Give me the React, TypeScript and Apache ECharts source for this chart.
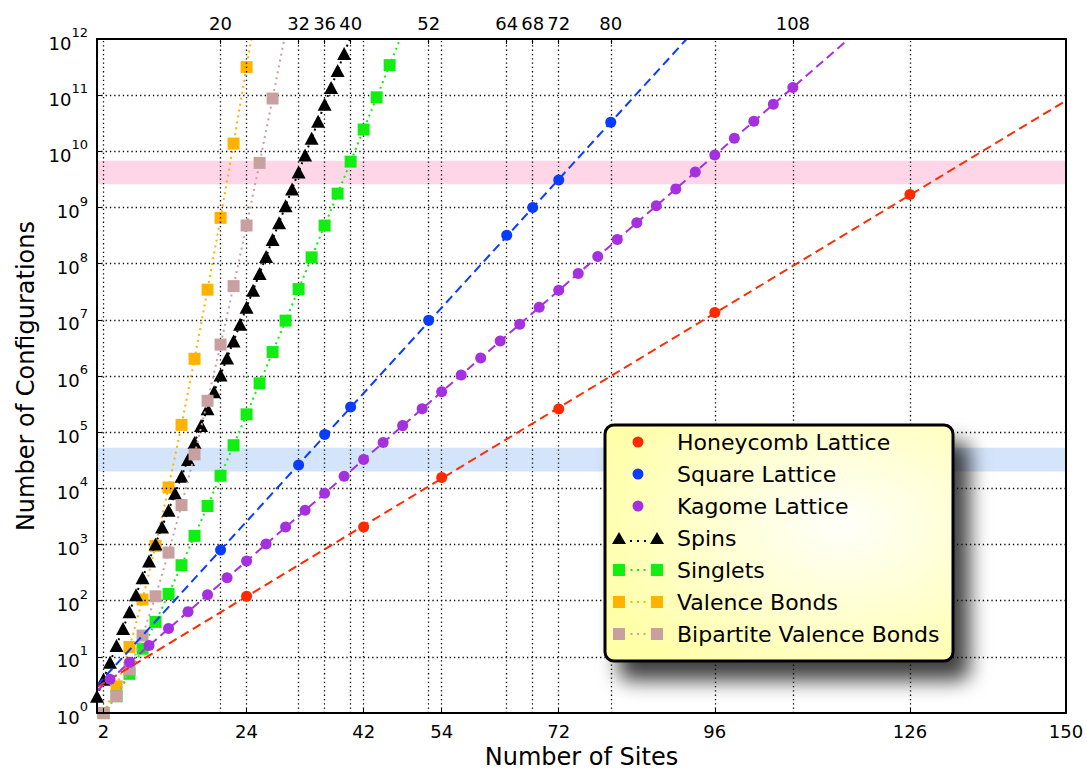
import React, { useEffect, useRef } from "react";
import * as echarts from "echarts";

// ---------- data ----------
const honeycombSites = [24, 42, 54, 72, 96, 126];
const honeycombCount = [120, 2050, 15600, 260000, 13500000, 1700000000];

const squareSites = [20, 32, 36, 40, 52, 64, 68, 72, 80];
const squareCount = [800, 26000, 91000, 280000, 9800000, 320000000, 1000000000, 3100000000, 33000000000];

const kagomeSites = [3, 6, 9, 12, 15, 18, 21, 24, 27, 30, 33, 36, 39, 42, 45, 48, 51, 54, 57, 60, 63, 66, 69, 72, 75, 78, 81, 84, 87, 90, 93, 96, 99, 102, 105, 108];
const kagomeCount = [4, 8, 16, 32, 64, 128, 256, 512, 1024, 2048, 4096, 8192, 16384, 32768, 65536, 131072, 262144, 524288, 1048576, 2097152, 4194304, 8388608, 16777216, 33554432, 67108864, 134217728, 268435456, 536870912, 1073741824, 2147483648, 4294967296, 8589934592, 17179869184, 34359738368, 68719476736, 137438953472];

const spinSites = [1, 2, 3, 4, 5, 6, 7, 8, 9, 10, 11, 12, 13, 14, 15, 16, 17, 18, 19, 20, 21, 22, 23, 24, 25, 26, 27, 28, 29, 30, 31, 32, 33, 34, 35, 36, 37, 38, 39, 40];
const spinCount = [2, 4, 8, 16, 32, 64, 128, 256, 512, 1024, 2048, 4096, 8192, 16384, 32768, 65536, 131072, 262144, 524288, 1048576, 2097152, 4194304, 8388608, 16777216, 33554432, 67108864, 134217728, 268435456, 536870912, 1073741824, 2147483648, 4294967296, 8589934592, 17179869184, 34359738368, 68719476736, 137438953472, 274877906944, 549755813888, 1099511627776];

const singletSites = [2, 4, 6, 8, 10, 12, 14, 16, 18, 20, 22, 24, 26, 28, 30, 32, 34, 36, 38, 40, 42, 44, 46, 48];
const singletCount = [1, 2, 5, 14, 42, 132, 429, 1430, 4862, 16796, 58786, 208012, 742900, 2674440, 9694845, 35357670, 129644790, 477638700, 1767263190, 6564120420, 24466267020, 91482563640, 343059613650, 1289904147324];

const vbSites = [2, 4, 6, 8, 10, 12, 14, 16, 18, 20, 22, 24, 26];
const vbCount = [1, 3, 15, 105, 945, 10395, 135135, 2027025, 34459425, 654729075, 13749310575, 316234143225, 7905853580625];

const bvbSites = [2, 4, 6, 8, 10, 12, 14, 16, 18, 20, 22, 24, 26, 28, 30];
const bvbCount = [1, 2, 6, 24, 120, 720, 5040, 40320, 362880, 3628800, 39916800, 479001600, 6227020800, 87178291200, 1307674368000];

// fitted exponential lines (end points)
const honeycombFitSites = [1, 150];
const honeycombFitCount = [2.9, 80000000000];
const squareFitSites = [1, 92];
const squareFitCount = [3.1, 1100000000000];
const kagomeFitSites = [1, 117];
const kagomeFitCount = [2.5, 1100000000000];

// shaded bands
const pinkBand = [2600000000, 6800000000];
const blueBand = [20000, 53000];

// ticks
const bottomTicks = [2, 24, 42, 54, 72, 96, 126, 150];
const topTicks = [20, 32, 36, 40, 52, 64, 68, 72, 80, 108];
const yTicks = [1, 10, 100, 1000, 10000, 100000, 1000000, 10000000, 100000000, 1000000000, 10000000000, 100000000000, 1000000000000];

// ---------- styling ----------
const FONT = "'DejaVu Sans', 'Liberation Sans', sans-serif";
const C_RED = "#ff2a00";
const C_BLUE = "#0a3cff";
const C_PURPLE = "#a531de";
const C_GREEN = "#11ee11";
const C_ORANGE = "#ffb300";
const C_ROSY = "#c9a0a0";
const C_BLACK = "#000000";

const zip = (xs: number[], ys: number[]) => xs.map((x, i) => [x, ys[i]]);

const ICON_CIRCLE = "path://M0 0 M52 14 M20.5 7 A5.5 5.5 0 1 0 31.5 7 A5.5 5.5 0 1 0 20.5 7 Z";
const ICON_TRI = "path://M0 0 M52 14 M0 13 L7 1 L14 13 Z M38 13 L45 1 L52 13 Z M18 9 h2 v2 h-2 Z M25 9 h2 v2 h-2 Z M32 9 h2 v2 h-2 Z";
const ICON_SQ = "path://M0 0 M52 14 M1 1 H13 V13 H1 Z M39 1 H51 V13 H39 Z M18.5 6 h2 v2 h-2 Z M25 6 h2 v2 h-2 Z M31.5 6 h2 v2 h-2 Z";

const gridLineStyle = { color: "#000", type: [1.3, 3] as number[], width: 1.3 };

function buildOption(): any {
  const xGridValues = Array.from(new Set([...bottomTicks.filter((v) => v < 150), ...topTicks]));
  const yGridValues = yTicks.slice(1, yTicks.length - 1);

  const dotted = (name: string, xs: number[], ys: number[], color: string, symbol: string, size: any, z: number) => ({
    name,
    type: "line",
    data: zip(xs, ys),
    symbol,
    symbolSize: size,
    showAllSymbol: true,
    clip: true,
    itemStyle: { color, borderWidth: 0 },
    lineStyle: { color, width: 2, type: [2, 4], cap: "butt" },
    z,
    silent: true,
  });

  const fit = (name: string, xs: number[], ys: number[], color: string) => ({
    name,
    type: "line",
    data: zip(xs, ys),
    showSymbol: false,
    symbol: "none",
    clip: true,
    lineStyle: { color, width: 2, type: [9, 5] },
    z: 7,
    silent: true,
  });

  const dots = (name: string, xs: number[], ys: number[], color: string) => ({
    name,
    type: "scatter",
    data: zip(xs, ys),
    symbol: "circle",
    symbolSize: 11,
    itemStyle: { color, opacity: 1 },
    clip: true,
    z: 8,
    silent: true,
  });

  return {
    animation: false,
    backgroundColor: "#ffffff",
    textStyle: { fontFamily: FONT },
    grid: { left: 97, right: 21, top: 39, bottom: 56, containLabel: false, show: false },
    xAxis: [
      {
        type: "value",
        position: "bottom",
        min: 1,
        max: 150,
        name: "Number of Sites",
        nameLocation: "middle",
        nameGap: 30,
        nameTextStyle: { fontFamily: FONT, fontSize: 24, color: "#000" },
        axisLine: { show: true, onZero: false, lineStyle: { color: "#000", width: 2 } },
        axisTick: { show: true, inside: true, length: 5, customValues: bottomTicks, lineStyle: { color: "#000", width: 1 } },
        axisLabel: { customValues: bottomTicks, margin: 9, fontFamily: FONT, fontSize: 18, color: "#000" },
        splitLine: { show: false },
        z: 10,
      },
      {
        type: "value",
        position: "top",
        min: 1,
        max: 150,
        axisLine: { show: true, onZero: false, lineStyle: { color: "#000", width: 2 } },
        axisTick: { show: true, inside: true, length: 5, customValues: topTicks, lineStyle: { color: "#000", width: 1 } },
        axisLabel: { customValues: topTicks, margin: 7, fontFamily: FONT, fontSize: 18, color: "#000" },
        splitLine: { show: false },
        z: 10,
      },
    ],
    yAxis: [
      {
        type: "log",
        logBase: 10,
        min: 1,
        max: 1e12,
        position: "left",
        name: "Number of Configurations",
        nameLocation: "middle",
        nameGap: 56,
        nameTextStyle: { fontFamily: FONT, fontSize: 24, color: "#000" },
        axisLine: { show: true, onZero: false, lineStyle: { color: "#000", width: 2 } },
        axisTick: { show: true, inside: true, length: 5, customValues: yTicks, lineStyle: { color: "#000", width: 1 } },
        minorTick: { show: false },
        axisLabel: {
          customValues: yTicks,
          margin: 9,
          formatter: (v: number) => `{b|10}{s|${Math.round(Math.log10(v))}}`,
          rich: {
            b: { fontFamily: FONT, fontSize: 18, color: "#000", verticalAlign: "bottom", lineHeight: 26 },
            s: { fontFamily: FONT, fontSize: 13, color: "#000", verticalAlign: "top", lineHeight: 26 },
          },
        },
        splitLine: { show: false },
        z: 10,
      },
      {
        type: "log",
        logBase: 10,
        min: 1,
        max: 1e12,
        position: "right",
        axisLine: { show: true, onZero: false, lineStyle: { color: "#000", width: 2 } },
        axisTick: { show: false },
        axisLabel: { show: false },
        splitLine: { show: false },
        z: 10,
      },
    ],
    legend: {
      orient: "vertical",
      left: 612,
      top: 429,
      padding: 0,
      itemGap: 6,
      itemWidth: 52,
      itemHeight: 14,
      selectedMode: false,
      z: 20,
      itemStyle: { borderWidth: 0 },
      textStyle: { fontFamily: FONT, fontSize: 22, color: "#000", lineHeight: 26, padding: [0, 0, 0, 8] },
      data: [
        { name: "Honeycomb Lattice", icon: ICON_CIRCLE },
        { name: "Square Lattice", icon: ICON_CIRCLE },
        { name: "Kagome Lattice", icon: ICON_CIRCLE },
        { name: "Spins", icon: ICON_TRI },
        { name: "Singlets", icon: ICON_SQ },
        { name: "Valence Bonds", icon: ICON_SQ },
        { name: "Bipartite Valence Bonds", icon: ICON_SQ },
      ],
    },
    graphic: [
      {
        type: "rect",
        z: 15,
        shape: { x: 605, y: 425, width: 348, height: 236, r: 9 },
        style: {
          fill: {
            type: "radial",
            x: 0.68,
            y: 0.42,
            r: 0.75,
            colorStops: [
              { offset: 0, color: "#fffffa" },
              { offset: 1, color: "#ffffa8" },
            ],
          },
          stroke: "#000",
          lineWidth: 3,
          shadowBlur: 20,
          shadowOffsetX: 15,
          shadowOffsetY: 18,
          shadowColor: "rgba(0,0,0,0.75)",
        },
        silent: true,
      },
    ],
    series: [
      {
        name: "bands",
        type: "line",
        data: [],
        silent: true,
        z: 1,
        markArea: {
          silent: true,
          itemStyle: { opacity: 1 },
          data: [
            [{ yAxis: pinkBand[0], itemStyle: { color: "#ffd6e7" } }, { yAxis: pinkBand[1] }],
            [{ yAxis: blueBand[0], itemStyle: { color: "#d4e4fa" } }, { yAxis: blueBand[1] }],
          ],
        },
        markLine: {
          silent: true,
          symbol: ["none", "none"],
          label: { show: false },
          lineStyle: gridLineStyle,
          emphasis: { disabled: true },
          data: [
            ...xGridValues.map((v) => ({ xAxis: v })),
            ...yGridValues.map((v) => ({ yAxis: v })),
          ],
        },
      },
      dotted("Valence Bonds", vbSites, vbCount, C_ORANGE, "rect", 12, 3),
      dotted("Spins", spinSites, spinCount, C_BLACK, "triangle", [14, 13], 4),
      dotted("Singlets", singletSites, singletCount, C_GREEN, "rect", 12, 5),
      dotted("Bipartite Valence Bonds", bvbSites, bvbCount, C_ROSY, "rect", 12, 6),
      fit("Honeycomb fit", honeycombFitSites, honeycombFitCount, C_RED),
      fit("Square fit", squareFitSites, squareFitCount, C_BLUE),
      fit("Kagome fit", kagomeFitSites, kagomeFitCount, C_PURPLE),
      dots("Honeycomb Lattice", honeycombSites, honeycombCount, C_RED),
      dots("Square Lattice", squareSites, squareCount, C_BLUE),
      dots("Kagome Lattice", kagomeSites, kagomeCount, C_PURPLE),
    ],
  };
}

export default function App() {
  const ref = useRef<HTMLDivElement>(null);
  useEffect(() => {
    if (!ref.current) return;
    const chart = echarts.init(ref.current, null, { renderer: "svg" });
    chart.setOption(buildOption());
    return () => chart.dispose();
  }, []);
  return (
    <div
      ref={ref}
      style={{ position: "fixed", left: 0, top: 0, width: 1087, height: 774, background: "#fff" }}
    />
  );
}
